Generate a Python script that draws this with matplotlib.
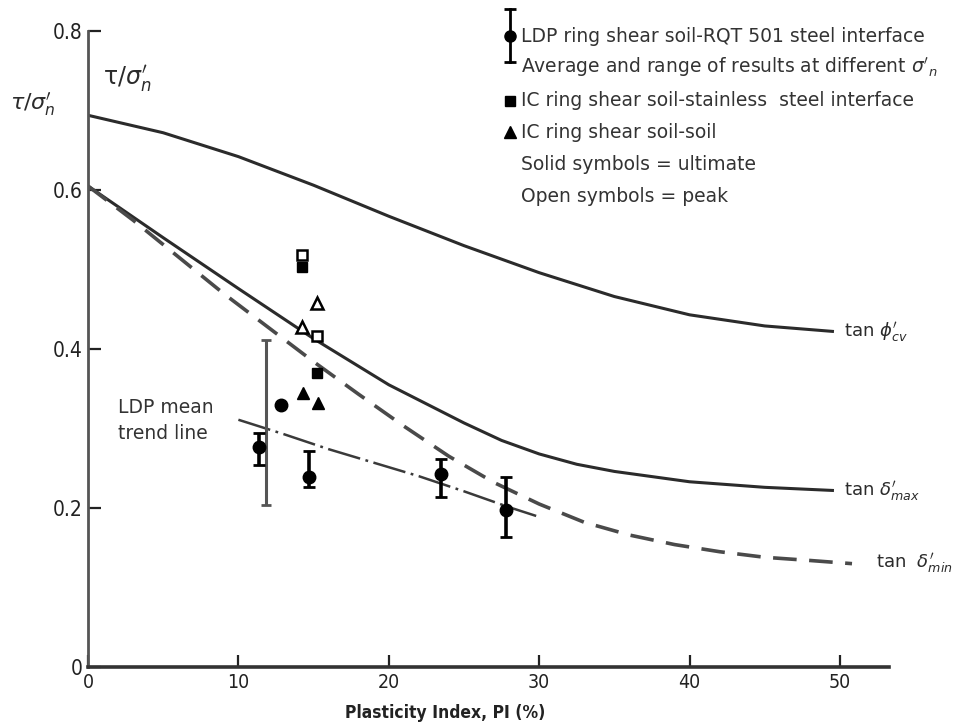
import matplotlib
matplotlib.use("Agg")
import matplotlib.pyplot as plt
from matplotlib import font_manager
from matplotlib.lines import Line2D

plt.rcParams["font.family"] = ["DejaVu Sans"]
plt.rcParams["mathtext.fontset"] = "dejavusans"
plt.rcParams["lines.scale_dashes"] = False

# --- curves (PI %, tau/sigma'n) ---
pi_cv = [0, 5, 10, 15, 20, 25, 30, 35, 40, 45, 49.6]
tan_cv = [0.694, 0.672, 0.642, 0.606, 0.567, 0.530, 0.496, 0.466, 0.443, 0.429, 0.422]

pi_max = [0, 5, 10, 15, 20, 25, 27.5, 30, 32.5, 35, 40, 45, 49.6]
tan_max = [0.605, 0.540, 0.476, 0.413, 0.355, 0.307, 0.285, 0.268, 0.255, 0.246, 0.233, 0.226, 0.222]

pi_min = [0, 3, 6, 9, 12, 15, 18, 21, 24, 27, 30, 33, 36, 39, 42, 45, 48, 50.8]
tan_min = [0.605, 0.562, 0.516, 0.470, 0.427, 0.384, 0.343, 0.303, 0.265, 0.232, 0.205,
           0.182, 0.166, 0.154, 0.145, 0.138, 0.134, 0.130]

pi_trend = [10, 13, 16, 19, 22, 25, 28, 29.8]
tan_trend = [0.311, 0.293, 0.274, 0.257, 0.240, 0.221, 0.201, 0.190]

# --- LDP ring shear (mean and range) ---
ldp_pi = [11.4, 14.7, 23.5, 27.8]
ldp_mean = [0.277, 0.239, 0.243, 0.197]
ldp_lo = [0.254, 0.226, 0.214, 0.164]
ldp_hi = [0.294, 0.272, 0.262, 0.239]
ldp_single_pi = [12.8]
ldp_single = [0.330]
range_pi = [11.85]
range_lo = [0.204]
range_hi = [0.411]

# --- IC ring shear ---
sq_peak_pi = [14.2, 15.2]
sq_peak = [0.518, 0.416]
sq_ult_pi = [14.2, 15.2]
sq_ult = [0.503, 0.370]
tri_peak_pi = [15.2, 14.2]
tri_peak = [0.458, 0.428]
tri_ult_pi = [14.3, 15.3]
tri_ult = [0.345, 0.332]

x_ticks = [0, 10, 20, 30, 40, 50]
y_ticks = [0, 0.2, 0.4, 0.6, 0.8]
y_tick_labels = ["0", "0.2", "0.4", "0.6", "0.8"]

legend_lines = [
    "LDP ring shear soil-RQT 501 steel interface",
    "Average and range of results at different $\\sigma'_n$",
    "IC ring shear soil-stainless  steel interface",
    "IC ring shear soil-soil",
    "Solid symbols = ultimate",
    "Open symbols = peak",
]

ink = "#2b2b2b"
installed = {f.name for f in font_manager.fontManager.ttflist}
narrow = "Liberation Sans Narrow" if "Liberation Sans Narrow" in installed else "DejaVu Sans"
narrow_kw = dict(fontfamily=narrow, fontstretch="condensed")

fig = plt.figure(figsize=(9.63, 7.28), dpi=100)
ax = fig.add_axes([88 / 963, 61 / 728, 801 / 963, 636 / 728])

ax.plot(pi_cv, tan_cv, color=ink, lw=2.2, solid_capstyle="butt")
ax.plot(pi_max, tan_max, color=ink, lw=2.2, solid_capstyle="butt")
ax.plot(pi_min, tan_min, color="#4a4a4a", lw=2.6, dashes=(17, 9))
ax.plot(pi_trend, tan_trend, color="#3a3a3a", lw=1.8, dashes=(24, 4, 2, 4))

# LDP results
range_mid = [(a + b) / 2 for a, b in zip(range_lo, range_hi)]
ax.errorbar(range_pi, range_mid,
            yerr=[[m - l for m, l in zip(range_mid, range_lo)], [h - m for m, h in zip(range_mid, range_hi)]],
            fmt="none", ecolor="#555555", elinewidth=2.2, capsize=3.5, capthick=2)
ax.errorbar(ldp_pi, ldp_mean,
            yerr=[[m - l for m, l in zip(ldp_mean, ldp_lo)], [h - m for m, h in zip(ldp_mean, ldp_hi)]],
            fmt="o", color="black", ms=9, elinewidth=2.6, capsize=4, capthick=2)
ax.plot(ldp_single_pi, ldp_single, "o", color="black", ms=9)

# IC results
ax.plot(sq_peak_pi, sq_peak, "s", mfc="white", mec="black", mew=1.8, ms=7)
ax.plot(sq_ult_pi, sq_ult, "s", color="black", ms=7.5)
ax.plot(tri_peak_pi, tri_peak, "^", mfc="white", mec="black", mew=1.8, ms=8.5)
ax.plot(tri_ult_pi, tri_ult, "^", color="black", ms=9)

# curve labels
ax.text(50.3, tan_cv[-1], r"tan $\phi^{\prime}_{cv}$", fontsize=13, color=ink, va="center")
ax.text(50.3, tan_max[-1], r"tan $\delta^{\prime}_{max}$", fontsize=13, color=ink, va="center")
ax.text(52.4, tan_min[-1], r"tan  $\delta^{\prime}_{min}$", fontsize=13, color=ink, va="center")
ax.text(2.0, 0.31, "LDP mean\ntrend line", fontsize=13.5, color="#333333", va="center",
        linespacing=1.5)
ax.text(1.0, 0.74, r"$\mathrm{\tau}/\sigma^{\prime}_{n}$", fontsize=17, color=ink, va="center")

ax.set_xlim(0, 53.26)
ax.set_ylim(0, 0.8)
ax.set_xticks(x_ticks)
ax.set_xticklabels([str(t) for t in x_ticks], fontsize=14, color="#222222", **narrow_kw)
ax.set_yticks(y_ticks)
ax.set_yticklabels(y_tick_labels, fontsize=15, color="#222222", **narrow_kw)
ax.tick_params(direction="in", length=9, width=1.6, pad=4, colors="#222222")
ax.spines["top"].set_visible(False)
ax.spines["right"].set_visible(False)
ax.spines["left"].set_color("#555555")
ax.spines["left"].set_linewidth(2)
ax.spines["bottom"].set_color("#333333")
ax.spines["bottom"].set_linewidth(2.6)

ax.set_xlabel("Plasticity Index, PI (%)", fontsize=12.5, fontweight="bold",
              color="#222222", **narrow_kw)
ax.xaxis.set_label_coords((445 - 88) / 801, -37 / 636)
fig.text(10 / 963, 1 - 104 / 728, r"$\tau/\sigma^{\prime}_{n}$", fontsize=16, color=ink,
         va="center", style="italic")

# legend block (top right)
legend_y = [36, 67, 101, 133, 165, 197]
for text, py in zip(legend_lines, legend_y):
    fig.text(521 / 963, 1 - py / 728, text, fontsize=13.5, color="#333333", va="center")

fx = 510 / 963
fig.add_artist(Line2D([fx, fx], [1 - 9 / 728, 1 - 62 / 728], transform=fig.transFigure,
                      color="black", lw=2))
fig.add_artist(Line2D([fx, fx], [1 - 9 / 728, 1 - 62 / 728], transform=fig.transFigure,
                      ls="none", marker="_", ms=8, mew=2, color="black"))
fig.add_artist(Line2D([fx], [1 - 36 / 728], transform=fig.transFigure,
                      ls="none", marker="o", ms=8, color="black"))
fig.add_artist(Line2D([fx], [1 - 101 / 728], transform=fig.transFigure,
                      ls="none", marker="s", ms=7, color="black"))
fig.add_artist(Line2D([fx], [1 - 132 / 728], transform=fig.transFigure,
                      ls="none", marker="^", ms=8, color="black"))

fig.savefig("out.png", dpi=100)
plt.close(fig)
